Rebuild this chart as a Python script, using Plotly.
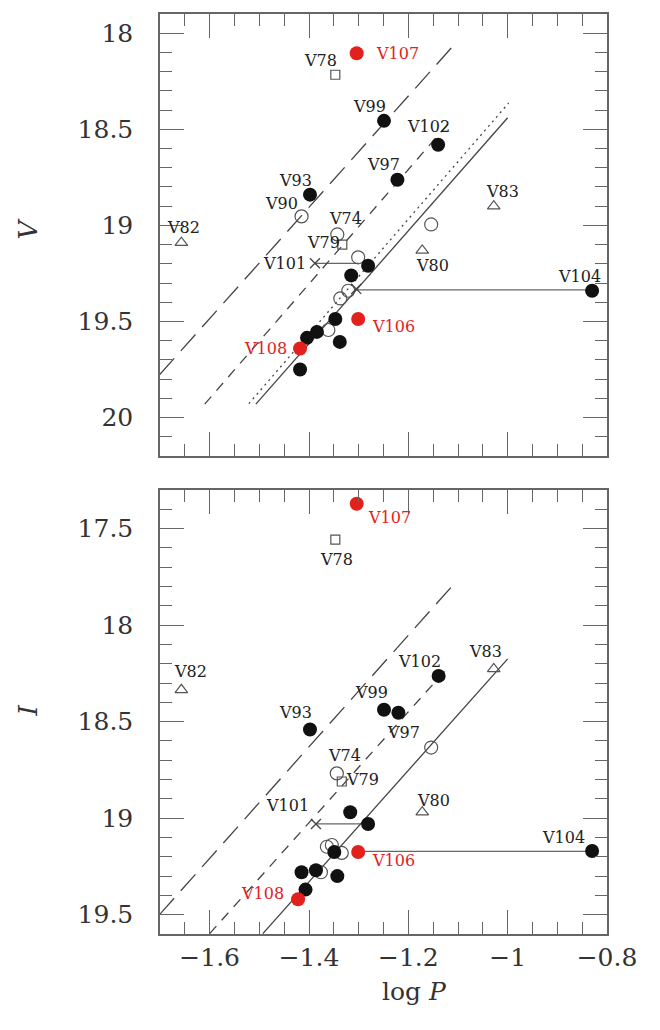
import plotly.graph_objects as go

# ---- period-luminosity data: log P and magnitudes for each star ----
# V band (upper panel)
v_filled_x = [-1.249, -1.140, -1.222, -1.398, -1.281, -1.315, -1.347, -1.384, -1.404, -1.338, -1.418, -0.830]
v_filled_y = [18.456, 18.58, 18.762, 18.84, 19.21, 19.26, 19.487, 19.554, 19.585, 19.606, 19.75, 19.34]
v_red_x = [-1.304, -1.301, -1.418]
v_red_y = [18.104, 19.487, 19.64]
v_open_x = [-1.415, -1.343, -1.154, -1.301, -1.337, -1.321, -1.361]
v_open_y = [18.953, 19.047, 18.995, 19.166, 19.38, 19.34, 19.544]
v_square_x = [-1.347, -1.333]
v_square_y = [18.216, 19.10]
v_tri_x = [-1.657, -1.028, -1.172]
v_tri_y = [19.09, 18.90, 19.13]
v_cross_x = [-1.388, -1.305]
v_cross_y = [19.197, 19.33]
# alias periods joined by horizontal bars: (x start, x end, mag)
v_links = [(-1.388, -1.300, 19.197), (-1.305, -0.830, 19.335)]

# I band (lower panel)
i_filled_x = [-1.398, -1.249, -1.220, -1.139, -0.830, -1.317, -1.281, -1.349, -1.415, -1.386, -1.343, -1.407]
i_filled_y = [18.541, 18.438, 18.454, 18.263, 19.17, 18.969, 19.03, 19.175, 19.28, 19.27, 19.30, 19.37]
i_red_x = [-1.304, -1.301, -1.422]
i_red_y = [17.371, 19.175, 19.42]
i_open_x = [-1.344, -1.154, -1.364, -1.354, -1.334, -1.376]
i_open_y = [18.768, 18.634, 19.148, 19.139, 19.18, 19.28]
i_square_x = [-1.347, -1.334]
i_square_y = [17.557, 18.81]
i_tri_x = [-1.657, -1.028, -1.172]
i_tri_y = [18.335, 18.227, 18.969]
i_cross_x = [-1.386]
i_cross_y = [19.03]
i_links = [(-1.386, -1.281, 19.03), (-1.301, -0.830, 19.172)]

# PL relations drawn as segments: (x0, mag0, x1, mag1)
v_long_dash = (-1.701, 19.777, -1.105, 18.052)
v_mid_dash = (-1.610, 19.930, -1.115, 18.456)
v_dotted = (-1.521, 19.927, -0.998, 18.363)
v_solid = (-1.507, 19.930, -1.000, 18.440)
i_long_dash = (-1.701, 19.50, -1.105, 17.778)
i_mid_dash = (-1.600, 19.598, -1.121, 18.222)
i_solid = (-1.493, 19.598, -1.000, 18.175)

# star labels: (name, x, mag, dx px, dy px, color)
v_labels = [
    ("V107", -1.304, 18.104, 41, 0, "red"), ("V78", -1.347, 18.216, -15, 14, "k"),
    ("V99", -1.249, 18.456, -15, 14, "k"), ("V102", -1.140, 18.58, -10, 18, "k"),
    ("V97", -1.222, 18.762, -14, 15, "k"), ("V93", -1.398, 18.84, -14, 14, "k"),
    ("V90", -1.415, 18.953, -20, 13, "k"), ("V83", -1.028, 18.90, 9, 15, "k"),
    ("V82", -1.657, 19.09, 2, 15, "k"), ("V74", -1.343, 19.047, 8, 16, "k"),
    ("V79", -1.333, 19.10, -19, 2, "k"), ("V101", -1.388, 19.197, -30, 0, "k"),
    ("V80", -1.172, 19.13, 10, -15, "k"), ("V104", -0.830, 19.34, -13, 14, "k"),
    ("V106", -1.301, 19.487, 35, -7, "red"), ("V108", -1.418, 19.64, -35, 0, "red"),
]
i_labels = [
    ("V107", -1.304, 17.371, 33, -14, "red"), ("V78", -1.347, 17.557, 1, -20, "k"),
    ("V82", -1.657, 18.335, 9, 18, "k"), ("V93", -1.398, 18.541, -14, 17, "k"),
    ("V99", -1.249, 18.438, -13, 17, "k"), ("V97", -1.220, 18.454, 5, -20, "k"),
    ("V102", -1.139, 18.263, -19, 14, "k"), ("V83", -1.028, 18.227, -8, 17, "k"),
    ("V74", -1.344, 18.768, 8, 18, "k"), ("V79", -1.334, 18.81, 21, 2, "k"),
    ("V101", -1.386, 19.03, -28, 18, "k"), ("V80", -1.172, 18.969, 11, 12, "k"),
    ("V104", -0.830, 19.17, -29, 13, "k"), ("V106", -1.301, 19.175, 35, -9, "red"),
    ("V108", -1.422, 19.42, -36, 6, "red"),
]

BLACK = "#111111"
RED = "#e3211c"
LINE = "#444444"
SERIF = "DejaVu Serif, Liberation Serif, serif"

fig = go.Figure()


def add_panel(xa, ya, filled, red, opened, squares, tris, crosses, links, lines, labels):
    for x0, x1, m in links:
        fig.add_trace(go.Scatter(x=[x0, x1], y=[m, m], mode="lines", xaxis=xa, yaxis=ya,
                                 line=dict(color="#666666", width=1.2), showlegend=False))
    for seg, dash in lines:
        fig.add_trace(go.Scatter(x=[seg[0], seg[2]], y=[seg[1], seg[3]], mode="lines",
                                 xaxis=xa, yaxis=ya, showlegend=False,
                                 line=dict(color=LINE, width=1.3, dash=dash)))
    fig.add_trace(go.Scatter(x=opened[0], y=opened[1], mode="markers", xaxis=xa, yaxis=ya,
                             marker=dict(symbol="circle-open", size=13, color="#555555",
                                         line=dict(width=1.2)), showlegend=False))
    fig.add_trace(go.Scatter(x=squares[0], y=squares[1], mode="markers", xaxis=xa, yaxis=ya,
                             marker=dict(symbol="square-open", size=9, color="#555555",
                                         line=dict(width=1.2)), showlegend=False))
    fig.add_trace(go.Scatter(x=tris[0], y=tris[1], mode="markers", xaxis=xa, yaxis=ya,
                             marker=dict(symbol="triangle-up-open", size=11, color="#555555",
                                         line=dict(width=1.2)), showlegend=False))
    fig.add_trace(go.Scatter(x=crosses[0], y=crosses[1], mode="markers", xaxis=xa, yaxis=ya,
                             marker=dict(symbol="x-thin-open", size=10, color="#444444",
                                         line=dict(width=1.3)), showlegend=False))
    fig.add_trace(go.Scatter(x=filled[0], y=filled[1], mode="markers", xaxis=xa, yaxis=ya,
                             marker=dict(symbol="circle", size=14, color=BLACK), showlegend=False))
    fig.add_trace(go.Scatter(x=red[0], y=red[1], mode="markers", xaxis=xa, yaxis=ya,
                             marker=dict(symbol="circle", size=14, color=RED), showlegend=False))
    for name, x, m, dx, dy, col in labels:
        fig.add_annotation(x=x, y=m, xref=xa, yref=ya, text=name, showarrow=False,
                           xshift=dx, yshift=dy,
                           font=dict(family=SERIF, size=16, color=RED if col == "red" else "#222222"))


add_panel("x2", "y2", (v_filled_x, v_filled_y), (v_red_x, v_red_y), (v_open_x, v_open_y),
          (v_square_x, v_square_y), (v_tri_x, v_tri_y), (v_cross_x, v_cross_y), v_links,
          [(v_long_dash, "22px,10px"), (v_mid_dash, "10px,8px"), (v_dotted, "2px,4px"),
           (v_solid, "solid")], v_labels)
add_panel("x", "y", (i_filled_x, i_filled_y), (i_red_x, i_red_y), (i_open_x, i_open_y),
          (i_square_x, i_square_y), (i_tri_x, i_tri_y), (i_cross_x, i_cross_y), i_links,
          [(i_long_dash, "22px,10px"), (i_mid_dash, "10px,8px"), (i_solid, "solid")], i_labels)

axis_common = dict(showgrid=False, zeroline=False, showline=True, linecolor="#666666",
                   linewidth=1.5, mirror="allticks", ticks="inside", tickcolor="#666666",
                   tickwidth=1.3, tickfont=dict(family=SERIF, size=25, color="#333333"))

x_ticks = [-1.6, -1.4, -1.2, -1.0, -0.8]

fig.update_layout(
    width=660, height=1030,
    margin=dict(l=160, r=53, t=12, b=96),
    paper_bgcolor="white", plot_bgcolor="white",
    xaxis=dict(range=[-1.70, -0.80], anchor="y", tickvals=x_ticks, ticklen=24,
               minor=dict(dtick=0.05, ticklen=12, ticks="inside", tickcolor="#666666"),
               **axis_common),
    xaxis2=dict(range=[-1.70, -0.80], anchor="y2", matches="x", tickvals=x_ticks, ticklen=24,
                showticklabels=False,
                minor=dict(dtick=0.05, ticklen=12, ticks="inside", tickcolor="#666666"),
                **axis_common),
    yaxis=dict(range=[19.6, 17.3], domain=[0, 0.4826], anchor="x", dtick=0.5, ticklen=24,
               ticklabelstandoff=20,
               minor=dict(dtick=0.1, ticklen=12, ticks="inside", tickcolor="#666666"),
               **axis_common),
    yaxis2=dict(range=[20.2, 17.9], domain=[0.5195, 1], anchor="x2", dtick=0.5, ticklen=24,
                ticklabelstandoff=20,
                minor=dict(dtick=0.1, ticklen=12, ticks="inside", tickcolor="#666666"),
                **axis_common),
)

# axis titles
fig.add_annotation(x=-0.295, y=0.766, xref="paper", yref="paper", text="<i>V</i>",
                   showarrow=False, textangle=-90, xanchor="center", yanchor="middle",
                   font=dict(family=SERIF, size=26, color="#333333"))
fig.add_annotation(x=-0.295, y=0.243, xref="paper", yref="paper", text="<i>I</i>",
                   showarrow=False, textangle=-90, xanchor="center", yanchor="middle",
                   font=dict(family=SERIF, size=26, color="#333333"))
fig.add_annotation(x=0.57, y=-0.062, xref="paper", yref="paper", text="log <i>P</i>",
                   showarrow=False, xanchor="center", yanchor="middle",
                   font=dict(family=SERIF, size=25, color="#333333"))

fig.write_html("out.html")
